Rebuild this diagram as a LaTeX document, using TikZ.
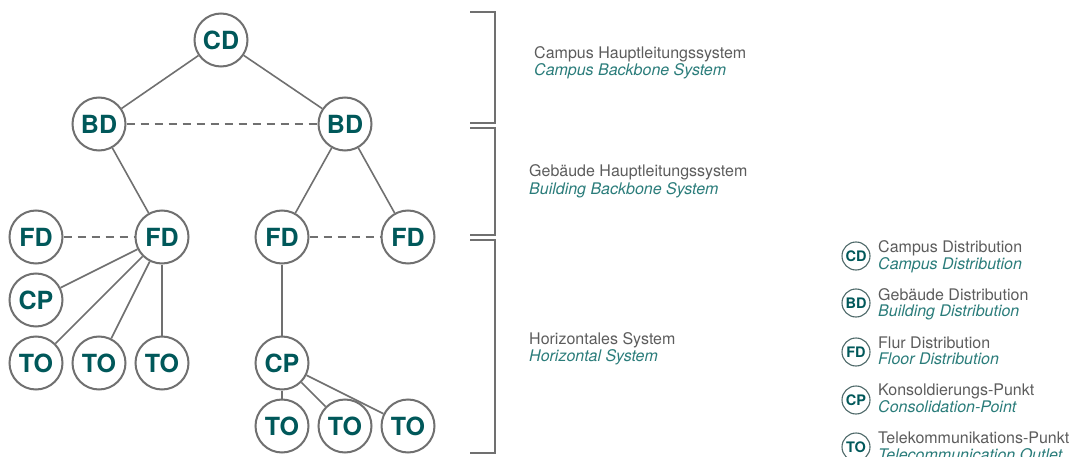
\documentclass[tikz,border=0pt]{standalone}
\usepackage{fontspec}
\setmainfont{TeX Gyre Heros}
\definecolor{linegray}{HTML}{707070}
\definecolor{tealtext}{HTML}{00585A}
\definecolor{tealit}{HTML}{2A7C7A}
\definecolor{greytext}{HTML}{5C5C5C}
\begin{document}
\begin{tikzpicture}[x=1pt,y=-1pt,
  nd/.style={circle,draw=linegray,line width=2pt,fill=white,minimum size=53pt,inner sep=0pt,
    font=\fontsize{25}{25}\selectfont\bfseries,text=tealtext},
  lg/.style={circle,draw=linegray!70!tealtext,line width=1.1pt,fill=white,minimum size=28pt,inner sep=0pt,
    font=\fontsize{14.5}{14.5}\selectfont\bfseries,text=tealtext},
  conn/.style={draw=linegray,line width=1.6pt},
  dconn/.style={draw=linegray,line width=1.6pt,dash pattern=on 8pt off 6pt},
  brk/.style={draw=linegray,line width=2pt},
  de/.style={anchor=base west,inner sep=0pt,text=greytext,font=\fontsize{16}{16}\selectfont},
  en/.style={anchor=base west,inner sep=0pt,text=tealit,font=\fontsize{16}{16}\selectfont\itshape}
]
\useasboundingbox (0,0) rectangle (1073,457);
% tree nodes
\node[nd] (cd) at (221,40) {CD};
\node[nd] (bdl) at (99,124) {BD};
\node[nd] (bdr) at (345,124) {BD};
\node[nd] (fd1) at (36,237) {FD};
\node[nd] (fd2) at (162,237) {FD};
\node[nd] (fd3) at (282,237) {FD};
\node[nd] (fd4) at (408,237) {FD};
\node[nd] (cpl) at (36,300) {CP};
\node[nd] (to1) at (36,363) {TO};
\node[nd] (to2) at (99,363) {TO};
\node[nd] (to3) at (162,363) {TO};
\node[nd] (cpr) at (282,363) {CP};
\node[nd] (to4) at (282,426) {TO};
\node[nd] (to5) at (345,426) {TO};
\node[nd] (to6) at (408,426) {TO};
% connectors
\path[conn] (cd) -- (bdl);
\path[conn] (cd) -- (bdr);
\path[dconn] (bdl) -- (bdr);
\path[conn] (bdl) -- (fd2);
\path[conn] (bdr) -- (fd3);
\path[conn] (bdr) -- (fd4);
\path[dconn] (fd1) -- (fd2);
\path[dconn] (fd3) -- (fd4);
\path[conn] (fd2) -- (cpl);
\path[conn] (fd2) -- (to1);
\path[conn] (fd2) -- (to2);
\path[conn] (fd2) -- (to3);
\path[conn] (fd3) -- (cpr);
\path[conn] (cpr) -- (to4);
\path[conn] (cpr) -- (to5);
\path[conn] (cpr) -- (to6);
% brackets
\coordinate (b1a) at (470,12); \coordinate (b1b) at (495,12);
\coordinate (b1c) at (495,123); \coordinate (b1d) at (470,123);
\path[brk] (b1a) -- (b1b) -- (b1c) -- (b1d);
\coordinate (b2a) at (470,128); \coordinate (b2b) at (495,128);
\coordinate (b2c) at (495,235); \coordinate (b2d) at (470,235);
\path[brk] (b2a) -- (b2b) -- (b2c) -- (b2d);
\coordinate (b3a) at (470,240); \coordinate (b3b) at (495,240);
\coordinate (b3c) at (495,453); \coordinate (b3d) at (470,453);
\path[brk] (b3a) -- (b3b) -- (b3c) -- (b3d);
% bracket labels
\node[de] (t1) at (534,59) {Campus Hauptleitungssystem};
\node[en] (t1e) at (534,76) {Campus Backbone System};
\node[de] (t2) at (529,177) {Gebäude Hauptleitungssystem};
\node[en] (t2e) at (529,194) {Building Backbone System};
\node[de] (t3) at (529,344) {Horizontales System};
\node[en] (t3e) at (529,361) {Horizontal System};
% legend
\node[lg] (l1) at (856,256) {CD};
\node[de] (l1d) at (878,252) {Campus Distribution};
\node[en] (l1e) at (878,269) {Campus Distribution};
\node[lg] (l2) at (856,303) {BD};
\node[de] (l2d) at (878,300) {Gebäude Distribution};
\node[en] (l2e) at (878,316) {Building Distribution};
\node[lg] (l3) at (856,352) {FD};
\node[de] (l3d) at (878,348) {Flur Distribution};
\node[en] (l3e) at (878,364) {Floor Distribution};
\node[lg] (l4) at (856,400) {CP};
\node[de] (l4d) at (878,395) {Konsoldierungs-Punkt};
\node[en] (l4e) at (878,412) {Consolidation-Point};
\node[lg] (l5) at (856,447) {TO};
\node[de] (l5d) at (878,443) {Telekommunikations-Punkt};
\node[en] (l5e) at (878,460) {Telecommunication Outlet};
\end{tikzpicture}
\end{document}
